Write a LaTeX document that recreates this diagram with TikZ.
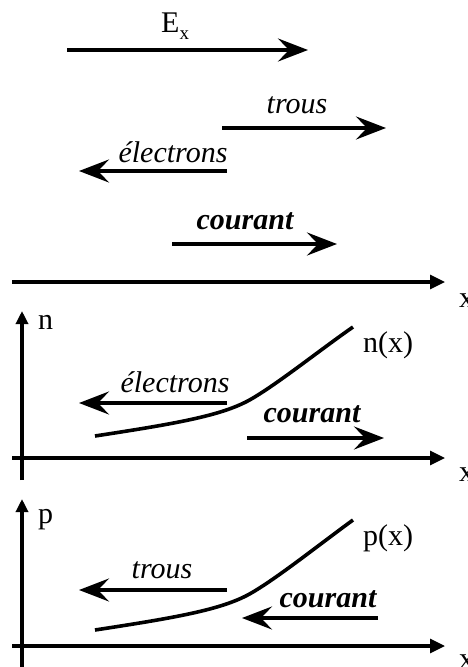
\documentclass[tikz,border=0pt]{standalone}
\usepackage{fontspec}
\setmainfont{Liberation Serif}
\usetikzlibrary{arrows.meta}
\begin{document}
\begin{tikzpicture}[x=1pt,y=-1pt,
  arr/.style={line width=3.6pt,-{Stealth[length=30pt,width=23pt,inset=11pt]}},
  axis/.style={line width=3.2pt,-{Triangle[length=15pt,width=14pt]}},
  vaxis/.style={line width=3.2pt,-{Triangle[length=13pt,width=12pt]}},
  curve/.style={line width=3.6pt},
  lbl/.style={inset sep=0pt,inner sep=0pt,anchor=base,font=\fontsize{30}{36}\selectfont},
  ilbl/.style={lbl,font=\fontsize{30}{36}\selectfont\itshape},
  blbl/.style={lbl,font=\fontsize{30}{36}\selectfont\bfseries\itshape},
  inset sep/.code={}]
\useasboundingbox (0,0) rectangle (467,667);
\clip (0,0) rectangle (467,667);
% top arrows
\node[lbl,anchor=base west] (Ex) at (161,32) {E\raisebox{-7pt}{\fontsize{19}{20}\selectfont x}};
\coordinate (e1) at (67,50); \coordinate (e2) at (308,50);
\draw[arr] (e1) -- (e2);
\node[ilbl] (t1) at (297,113) {trous};
\coordinate (t1a) at (222,128); \coordinate (t1b) at (386,128);
\draw[arr] (t1a) -- (t1b);
\node[ilbl] (el1) at (173,162) {électrons};
\coordinate (el1a) at (227,171); \coordinate (el1b) at (79,171);
\draw[arr] (el1a) -- (el1b);
\node[blbl] (c1) at (245,229) {courant};
\coordinate (c1a) at (172,244); \coordinate (c1b) at (337,244);
\draw[arr] (c1a) -- (c1b);
% axis 1
\coordinate (a1a) at (12,282); \coordinate (a1b) at (445,282);
\draw[axis] (a1a) -- (a1b);
\node[lbl,anchor=base west] (x1) at (459,307) {x};
% n panel
\coordinate (n0) at (22,480); \coordinate (n1) at (22,311);
\draw[vaxis] (n0) -- (n1);
\node[lbl,anchor=base west] (nl) at (38,329) {n};
\node[lbl,anchor=base west] (nx) at (363,352) {n(x)};
\draw[curve] (95,436) .. controls (180,423) and (225,415) .. (253,398) .. controls (280,382) and (320,350) .. (353,327);
\node[ilbl] (el2) at (175,392) {électrons};
\coordinate (el2a) at (227,403); \coordinate (el2b) at (79,403);
\draw[arr] (el2a) -- (el2b);
\node[blbl] (c2) at (312,422) {courant};
\coordinate (c2a) at (247,438); \coordinate (c2b) at (384,438);
\draw[arr] (c2a) -- (c2b);
\coordinate (a2a) at (12,458); \coordinate (a2b) at (445,458);
\draw[axis] (a2a) -- (a2b);
\node[lbl,anchor=base west] (x2) at (459,481) {x};
% p panel
\coordinate (p0) at (22,667); \coordinate (p1) at (22,499);
\draw[vaxis] (p0) -- (p1);
\node[lbl,anchor=base west] (pl) at (38,523) {p};
\node[lbl,anchor=base west] (px) at (363,545) {p(x)};
\draw[curve] (95,630) .. controls (180,617) and (225,609) .. (253,592) .. controls (280,576) and (320,544) .. (353,520);
\node[ilbl] (t2) at (162,578) {trous};
\coordinate (t2a) at (227,590); \coordinate (t2b) at (79,590);
\draw[arr] (t2a) -- (t2b);
\node[blbl] (c3) at (328,607) {courant};
\coordinate (c3a) at (378,618); \coordinate (c3b) at (242,618);
\draw[arr] (c3a) -- (c3b);
\coordinate (a3a) at (12,646); \coordinate (a3b) at (445,646);
\draw[axis] (a3a) -- (a3b);
\node[lbl,anchor=base west] (x3) at (459,668) {x};
\end{tikzpicture}
\end{document}
